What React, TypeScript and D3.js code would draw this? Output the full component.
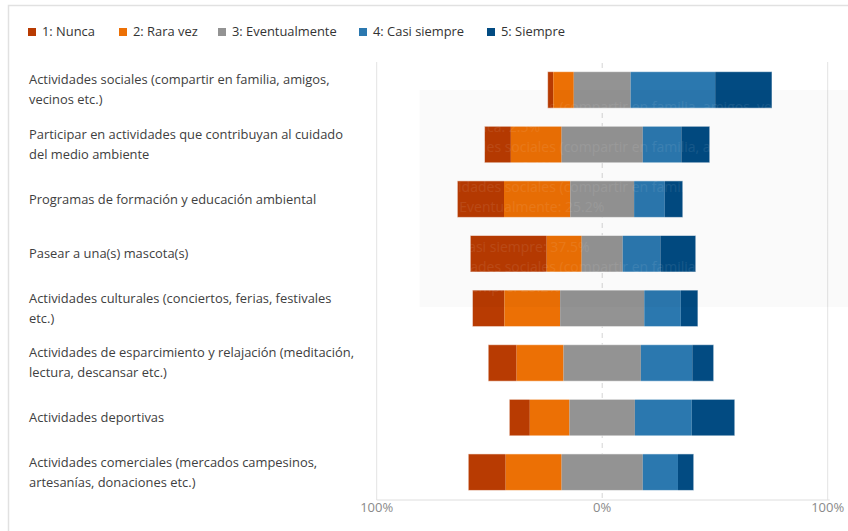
import React, { useEffect, useRef } from "react";
import * as d3 from "d3";

const series = ["1: Nunca", "2: Rara vez", "3: Eventualmente", "4: Casi siempre", "5: Siempre"];
const colors = ["#b83b02", "#ec7005", "#939393", "#2b78af", "#024b82"];

const categories = [
  "Actividades sociales (compartir en familia, amigos, vecinos etc.)",
  "Participar en actividades que contribuyan al cuidado del medio ambiente",
  "Programas de formación y educación ambiental",
  "Pasear a una(s) mascota(s)",
  "Actividades culturales (conciertos, ferias, festivales etc.)",
  "Actividades de esparcimiento y relajación (meditación, lectura, descansar etc.)",
  "Actividades deportivas",
  "Actividades comerciales (mercados campesinos, artesanías, donaciones etc.)",
];
const labelLines = [
  ["Actividades sociales (compartir en familia, amigos,", "vecinos etc.)"],
  ["Participar en actividades que contribuyan al cuidado", "del medio ambiente"],
  ["Programas de formación y educación ambiental"],
  ["Pasear a una(s) mascota(s)"],
  ["Actividades culturales (conciertos, ferias, festivales", "etc.)"],
  ["Actividades de esparcimiento y relajación (meditación,", "lectura, descansar etc.)"],
  ["Actividades deportivas"],
  ["Actividades comerciales (mercados campesinos,", "artesanías, donaciones etc.)"],
];

const nunca = [2.5, 11.7, 20.7, 33.9, 14.2, 12.6, 9.1, 16.6];
const raraVez = [9.1, 22.5, 29.4, 15.5, 24.7, 20.8, 17.6, 24.8];
const eventualmente = [25.2, 36.0, 28.3, 18.2, 37.3, 34.3, 29.0, 36.0];
const casiSiempre = [37.5, 17.1, 13.6, 16.7, 16.2, 22.8, 25.2, 15.6];
const siempre = [25.2, 12.6, 8.0, 15.7, 7.6, 9.5, 19.1, 7.0];

const tickValues = [-100, 0, 100];
const tickLabels = ["100%", "0%", "100%"];

const tooltipLines = [
  "Actividades sociales (compartir en familia, amigos, vecinos etc.)",
  "1: Nunca: 2.5%",
  "Actividades sociales (compartir en familia, amigos, vecinos etc.)",
  "2: Rara vez: 9.1%",
  "Actividades sociales (compartir en familia, amigos, vecinos etc.)",
  "3: Eventualmente: 25.2%",
  "Actividades sociales (compartir en familia, amigos, vecinos etc.)",
  "4: Casi siempre: 37.5%",
  "Actividades sociales (compartir en familia, amigos, vecinos etc.)",
  "5: Siempre: 25.2%",
];

const FONT = "'Segoe UI', 'Open Sans', sans-serif";

export default function App() {
  const ref = useRef<SVGSVGElement>(null);

  useEffect(() => {
    const svg = d3.select(ref.current);
    svg.selectAll("*").remove();

    const values = [nunca, raraVez, eventualmente, casiSiempre, siempre];
    const x = d3.scaleLinear().domain([-100, 100]).range([376.7, 827.7]);
    const y = d3
      .scaleBand<number>()
      .domain(d3.range(categories.length))
      .range([62.6, 499.5])
      .paddingInner(0.3315)
      .paddingOuter(0.166);

    // card border
    svg.append("path").attr("d", "M8.5,531 L8.5,5.5 L848,5.5").attr("fill", "none").attr("stroke", "#e1e1e1").attr("stroke-width", 1.5);

    // gridlines
    const g = svg.append("g");
    g.selectAll("line.grid")
      .data([-100, 100])
      .join("line")
      .attr("x1", (d) => x(d))
      .attr("x2", (d) => x(d))
      .attr("y1", 62)
      .attr("y2", 500)
      .attr("stroke", "#e3e3e3")
      .attr("stroke-width", 1);
    g.append("line")
      .attr("x1", x(0))
      .attr("x2", x(0))
      .attr("y1", 63)
      .attr("y2", 500)
      .attr("stroke", "#d4d4d4")
      .attr("stroke-dasharray", "5,5");
    g.append("line")
      .attr("x1", x(-100))
      .attr("x2", x(100) + 2)
      .attr("y1", 500)
      .attr("y2", 500)
      .attr("stroke", "#dedede");

    // ticks labels
    g.selectAll("text.tick")
      .data(tickValues)
      .join("text")
      .attr("x", (d) => x(d))
      .attr("y", 509)
      .attr("text-anchor", "middle")
      .attr("dominant-baseline", "middle")
      .attr("font-family", FONT)
      .attr("font-size", 13)
      .attr("fill", "#8a8a8a")
      .text((_d, i) => tickLabels[i]);

    // bars
    const bars = svg.append("g");
    categories.forEach((_c, i) => {
      let start = -(values[0][i] + values[1][i] + values[2][i] / 2);
      const y0 = y(i)!;
      const h = y.bandwidth();
      const x0 = start;
      values.forEach((arr, s) => {
        const v = arr[i];
        bars
          .append("rect")
          .attr("x", x(start))
          .attr("y", y0)
          .attr("width", x(start + v) - x(start))
          .attr("height", h)
          .attr("fill", colors[s]);
        start += v;
      });
      bars
        .append("rect")
        .attr("x", x(x0))
        .attr("y", y0)
        .attr("width", x(start) - x(x0))
        .attr("height", h)
        .attr("fill", "none")
        .attr("stroke", "rgba(255,255,255,0.55)")
        .attr("stroke-width", 1);
    });

    // category labels
    const lab = svg.append("g");
    labelLines.forEach((lines, i) => {
      const cy = y(i)! + y.bandwidth() / 2 + 1;
      lines.forEach((t, j) => {
        const off = lines.length === 1 ? 0 : j === 0 ? -10 : 10;
        lab
          .append("text")
          .attr("x", 29)
          .attr("y", cy + off)
          .attr("dominant-baseline", "middle")
          .attr("font-family", FONT)
          .attr("font-size", 12.9)
          .attr("fill", "#404040")
          .text(t);
      });
    });

    // legend
    const leg = svg.append("g");
    const legX = [28, 119, 218, 359, 487];
    series.forEach((s, i) => {
      leg.append("rect").attr("x", legX[i]).attr("y", 28).attr("width", 8).attr("height", 8).attr("fill", colors[i]);
      leg
        .append("text")
        .attr("x", legX[i] + 14)
        .attr("y", 32.5)
        .attr("dominant-baseline", "middle")
        .attr("font-family", FONT)
        .attr("font-size", 12.9)
        .attr("fill", "#333")
        .text(s);
    });

    // faint ghost tooltip
    const tt = svg.append("g");
    tt.append("rect").attr("x", 419.5).attr("y", 90).attr("width", 440).attr("height", 217).attr("fill", "#000").attr("opacity", 0.02);
    tooltipLines.forEach((t, i) => {
      const isSeries = i % 2 === 1;
      if (isSeries) {
        tt.append("rect").attr("x", 427).attr("y", 108 + i * 20 - 5).attr("width", 10).attr("height", 10).attr("fill", "#fff").attr("opacity", 0.1);
      }
      tt.append("text")
        .attr("x", isSeries ? 444 : 427)
        .attr("y", 108 + i * 20)
        .attr("dominant-baseline", "middle")
        .attr("font-family", FONT)
        .attr("font-size", 14)
        .attr("fill", "#fff")
        .attr("opacity", 0.08)
        .text(t);
    });
  }, []);

  return (
    <svg
      ref={ref}
      width={848}
      height={531}
      style={{ position: "absolute", left: 0, top: 0, background: "#fff" }}
    />
  );
}
